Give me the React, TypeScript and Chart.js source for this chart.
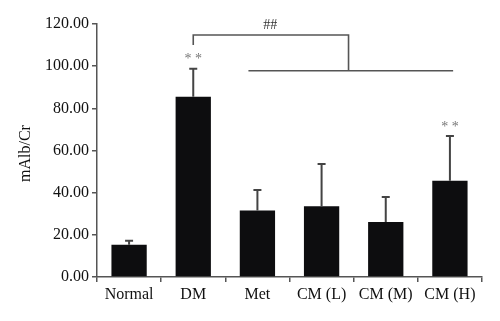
import React, { useEffect, useRef } from "react";
import { Chart, registerables } from "chart.js";

Chart.register(...registerables);

const categories = ["Normal", "DM", "Met", "CM (L)", "CM (M)", "CM (H)"];
const means = [15.3, 85.5, 31.5, 33.5, 26.1, 45.7];
const errors = [1.9, 13.3, 9.8, 20.1, 11.8, 21.2];
const yTicks = [0, 20, 40, 60, 80, 100, 120];
const starsOn = ["DM", "CM (H)"];
const yTitle = "mAlb/Cr";

const FONT = "'Liberation Serif', 'Times New Roman', serif";

const annotPlugin = {
  id: "annot",
  afterDatasetsDraw(chart: any) {
    const ctx = chart.ctx;
    const x = chart.scales.x;
    const y = chart.scales.y;
    ctx.save();
    // y title
    ctx.save();
    ctx.translate(26, (y.top + y.bottom) / 2 + 3);
    ctx.rotate(-Math.PI / 2);
    ctx.fillStyle = "#111";
    ctx.font = `16px ${FONT}`;
    ctx.textAlign = "center";
    ctx.textBaseline = "middle";
    ctx.fillText(yTitle, 0, 0);
    ctx.restore();
    // error bars
    ctx.strokeStyle = "#444";
    ctx.lineWidth = 2;
    means.forEach((m, i) => {
      const cx = x.getPixelForValue(i);
      const top = y.getPixelForValue(m + errors[i]);
      const base = y.getPixelForValue(m);
      ctx.beginPath();
      ctx.moveTo(cx, base);
      ctx.lineTo(cx, top);
      ctx.moveTo(cx - 4, top);
      ctx.lineTo(cx + 4, top);
      ctx.stroke();
    });
    // stars
    ctx.fillStyle = "#777";
    ctx.font = `14px ${FONT}`;
    ctx.textAlign = "center";
    ctx.textBaseline = "middle";
    starsOn.forEach((c) => {
      const i = categories.indexOf(c);
      const cx = x.getPixelForValue(i);
      const top = y.getPixelForValue(means[i] + errors[i]);
      ctx.fillText("* *", cx, top - 9);
    });
    // bracket
    const dmX = x.getPixelForValue(1);
    const yTop = y.getPixelForValue(114.8);
    const yTopEnd = y.getPixelForValue(110);
    const yLow = y.getPixelForValue(97.8);
    const midX = x.getPixelForValue(3.42);
    const lowStart = x.getPixelForValue(1.86);
    const lowEnd = x.getPixelForValue(5.05);
    ctx.strokeStyle = "#555";
    ctx.lineWidth = 1.6;
    ctx.beginPath();
    ctx.moveTo(dmX, yTopEnd);
    ctx.lineTo(dmX, yTop);
    ctx.lineTo(midX, yTop);
    ctx.lineTo(midX, yLow);
    ctx.moveTo(lowStart, yLow);
    ctx.lineTo(lowEnd, yLow);
    ctx.stroke();
    ctx.fillStyle = "#333";
    ctx.font = `14px ${FONT}`;
    ctx.fillText("##", x.getPixelForValue(2.2), y.getPixelForValue(119.5));
    ctx.restore();
  },
};

export default function App() {
  const ref = useRef<HTMLCanvasElement>(null);
  useEffect(() => {
    document.body.style.margin = "0";
    const chart = new Chart(ref.current!, {
      type: "bar",
      data: {
        labels: categories,
        datasets: [
          {
            data: means,
            backgroundColor: "#0d0d0f",
            borderColor: "#0d0d0f",
            borderWidth: 0,
            barPercentage: 0.55,
            categoryPercentage: 1,
          },
        ],
      },
      options: {
        animation: false,
        responsive: false,
        maintainAspectRatio: false,
        layout: { padding: { top: 24, right: 18, left: 0, bottom: 0 } },
        plugins: { legend: { display: false }, tooltip: { enabled: false } },
        scales: {
          x: {
            offset: true,
            afterFit: (s: any) => {
              s.height = 44;
            },
            border: { color: "#555", width: 1.5 },
            grid: {
              display: true,
              offset: true,
              drawOnChartArea: false,
              drawTicks: true,
              tickLength: 5,
              color: "#555",
              lineWidth: 1.5,
            },
            ticks: {
              color: "#111",
              font: { family: FONT, size: 16 },
              padding: 3,
            },
          },
          y: {
            min: 0,
            max: 120,
            afterFit: (s: any) => {
              s.width = 97;
            },
            afterBuildTicks: (s: any) => {
              s.ticks = yTicks.map((v) => ({ value: v }));
            },
            border: { color: "#555", width: 1.5 },
            grid: {
              display: true,
              drawOnChartArea: false,
              drawTicks: true,
              tickLength: 5,
              color: "#555",
              lineWidth: 1.5,
            },
            ticks: {
              color: "#111",
              font: { family: FONT, size: 16 },
              padding: 3,
              callback: (v: any) => Number(v).toFixed(2),
            },
          },
        },
      },
      plugins: [annotPlugin],
    });
    return () => chart.destroy();
  }, []);
  return (
    <div style={{ width: 500, height: 321, background: "#fff" }}>
      <canvas ref={ref} width={500} height={321} />
    </div>
  );
}
